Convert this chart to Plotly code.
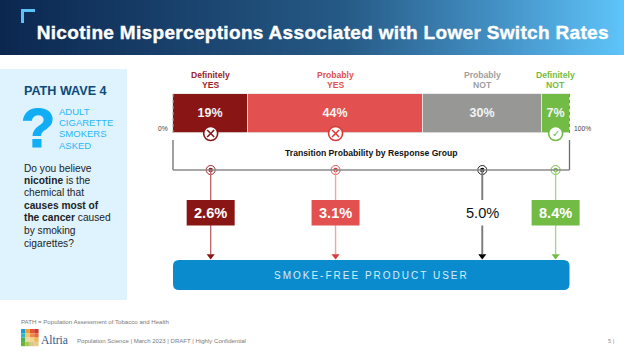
import plotly.graph_objects as go

W, H = 624, 351

categories = ["Definitely YES", "Probably YES", "Probably NOT", "Definitely NOT"]
shares = [19, 44, 30, 7]
share_labels = ["19%", "44%", "30%", "7%"]
rates = ["2.6%", "3.1%", "5.0%", "8.4%"]
head_lines = [("Definitely", "YES"), ("Probably", "YES"), ("Probably", "NOT"), ("Definitely", "NOT")]
fill_colors = ["#8A1515", "#E25050", "#979896", "#72BB44"]
head_colors = ["#9A2428", "#E25050", "#A0A09E", "#72BB44"]
stem_colors = ["#BC6A6A", "#F0A5A5", "#7A7A7A", "#A8D68C"]
tip_colors = ["#8A1515", "#D93A3A", "#000000", "#72BB44"]
icons = ["x", "x", None, "check"]
logo_rows = [
    ["#1E9AD6", "#F0A030", "#E8552F", "#D0392E"],
    ["#2FB5C8", "#F3C46A", "#EE8A4A", "#E36A3A"],
    ["#4CAF50", "#EBD9A8", "#F2D48A", "#EFB65A"],
    ["#6BB33A", "#A9C84F", "#D7C98C", "#E9C98A"],
]
panel_left = [
    ("Do you believe", 168),
    ("<b>nicotine</b> is the", 180),
    ("chemical that", 192.5),
    ("<b>causes most of</b>", 205),
    ("<b>the cancer</b> caused", 217.5),
    ("by smoking", 230),
    ("cigarettes?", 243),
]
asked = [("ADULT", 111), ("CIGARETTE", 122.5), ("SMOKERS", 133.5), ("ASKED", 145)]

mids = []
run = 0
for s in shares:
    mids.append(run + s / 2)
    run += s

FONT = "Liberation Sans"
BAR_L, BAR_R = 173, 569.5
unit = (BAR_R - BAR_L) / 100
fig = go.Figure()
shapes, notes = [], []


def px(x):
    return x / W


def py(y):
    return 1 - y / H


def rect(x0, y0, x1, y1, color):
    shapes.append(dict(type="rect", xref="paper", yref="paper", x0=px(x0), x1=px(x1), y0=py(y0), y1=py(y1),
                       fillcolor=color, line_width=0, layer="below"))


def note(text, x, y, size, color, xanchor="left", bold=False, xref="paper", family=FONT):
    notes.append(dict(text=f"<b>{text}</b>" if bold else text, x=px(x) if xref == "paper" else x, xref=xref,
                      y=y, yref="y", xanchor=xanchor, yanchor="middle", showarrow=False,
                      borderwidth=0, borderpad=0,
                      font=dict(family=family, size=size, color=color)))


def mix(a, b, t):
    return "#" + "".join(f"{round(a[i] + (b[i] - a[i]) * t):02x}" for i in range(3))


# header band
stops = [(0.0, (11, 39, 80)), (0.55, (38, 90, 134)), (0.8, (68, 146, 198)), (1.0, (95, 197, 250))]
for i in range(0, W, 3):
    t = i / W
    for (t0, c0), (t1, c1) in zip(stops, stops[1:]):
        if t0 <= t <= t1:
            rect(i, 0, i + 3.5, 55, mix(c0, c1, (t - t0) / (t1 - t0)))
            break
rect(21, 9, 35, 12, "#5BC3F5")
rect(21, 9, 24, 23, "#5BC3F5")
note("Nicotine Misperceptions Associated with Lower Switch Rates", 322.5, 32, 19, "#FFFFFF", "center", True)

# left panel
rect(0, 69, 127, 300, "#DFF3FF")
note("PATH WAVE 4", 24, 91, 12.6, "#0B4A7A", bold=True)
note("?", 37.5, 127, 56, "#12AEF5", xanchor="center", bold=True)
for line_text, y in asked:
    note(line_text, 59, y, 9.5, "#2BB6F6")
for line_text, y in panel_left:
    note(line_text, 24, y, 10.2, "#222222")

# stacked bar
for cat, val, lab, col in zip(categories, shares, share_labels, fill_colors):
    fig.add_trace(go.Bar(y=[113.5], width=[39], x=[val], name=cat, orientation="h", text=[f"<b>{lab}</b>"],
                         textposition="inside", insidetextanchor="middle", textangle=0,
                         marker=dict(color=col, line=dict(color="#E6E6E6", width=0.8)),
                         insidetextfont=dict(family=FONT, size=12.5, color="#F4F4F4"), hoverinfo="skip",
                         showlegend=False, cliponaxis=False))


# connector bracket, stems, value boxes
def line(x0, y0, x1, y1, color, width=1.2, dash="solid"):
    shapes.append(dict(type="line", xref="x", yref="y", x0=x0, x1=x1, y0=y0, y1=y1,
                       line=dict(color=color, width=width, dash=dash)))


line(0, 140, 0, 170, "#6E6E6E", 1.3)
line(0, 170, 100, 170, "#8A8A8A", 1.3)
line(100, 140, 100, 170, "#6E6E6E", 1.3)
line(0, 94, 0, 133, "#B0B0B0", 1, "dot")
line(100, 94, 100, 133, "#8A8A8A", 1, "dot")

for m, stem, col, rate in zip(mids, stem_colors, fill_colors, rates):
    white = rate != "5.0%"
    line(m, 170, m, 254, stem, 1.4 if white else 1.9)
    shapes.append(dict(type="rect", xref="x", yref="y", xsizemode="pixel", xanchor=m, x0=-24, x1=24,
                       y0=200, y1=225.5, fillcolor=col if white else "#FFFFFF", line_width=0))
    notes.append(dict(text=f"<b>{rate}</b>" if white else rate, x=m, xref="x", y=212.5, yref="y",
                      showarrow=False, borderwidth=0, borderpad=0,
                      font=dict(family=FONT, size=14.6, color="#FFFFFF" if white else "#111111")))

# arrowheads and junction markers
fig.add_trace(go.Scatter(x=mids, y=[256] * 4, mode="markers", hoverinfo="skip",
                         showlegend=False, cliponaxis=False,
                         marker=dict(symbol="triangle-down", size=7, color=tip_colors, line_width=0)))
fig.add_trace(go.Scatter(x=mids, y=[170] * 4, mode="markers", hoverinfo="skip",
                         showlegend=False, cliponaxis=False,
                         marker=dict(symbol="circle", size=9, color="#FFFFFF",
                                     line=dict(color=head_colors[:2] + ["#222222", "#72BB44"], width=1))))
fig.add_trace(go.Scatter(x=mids, y=[170] * 4, mode="markers", hoverinfo="skip",
                         showlegend=False, cliponaxis=False,
                         marker=dict(symbol="circle", size=4.5, color=tip_colors, line_width=0)))

# response icons on the bar
icon_x = [m for m, k in zip(mids, icons) if k]
icon_c = [c for c, k in zip(tip_colors, icons) if k]
fig.add_trace(go.Scatter(x=icon_x, y=[133.5] * 3, mode="markers", hoverinfo="skip",
                         showlegend=False, cliponaxis=False,
                         marker=dict(symbol="circle", size=14, color="#FFFFFF", line=dict(color=icon_c, width=1.6))))
fig.add_trace(go.Scatter(x=[m for m, k in zip(mids, icons) if k == "x"], y=[133.5] * 2, mode="markers",
                         hoverinfo="skip", showlegend=False, cliponaxis=False,
                         marker=dict(symbol="x-thin", size=7, line=dict(color=icon_c[:2], width=1.6))))
for m, k in zip(mids, icons):
    if k == "check":
        notes.append(dict(text="✓", x=m, xref="x", y=133.5, yref="y", showarrow=False,
                          borderwidth=0, borderpad=0,
                          font=dict(family="DejaVu Sans", size=10, color="#72BB44")))

# column heads
for m, (a, b), c in zip(mids, head_lines, head_colors):
    note(a, m, 74.5, 8.6, c, "center", True, "x")
    note(b, m, 85, 8.6, c, "center", True, "x")

note("0%", 168, 128.5, 6.7, "#444444", "right")
note("100%", 574, 128.5, 6.7, "#444444", "left")
note("Transition Probability by Response Group", 371, 153, 8.65, "#111111", "center", True)

# destination box
l, t, r, b, rad = BAR_L, 260, BAR_R, 290, 6
d = (f"M {px(l + rad)},{py(t)} L {px(r - rad)},{py(t)} Q {px(r)},{py(t)} {px(r)},{py(t + rad)} "
     f"L {px(r)},{py(b - rad)} Q {px(r)},{py(b)} {px(r - rad)},{py(b)} L {px(l + rad)},{py(b)} "
     f"Q {px(l)},{py(b)} {px(l)},{py(b - rad)} L {px(l)},{py(t + rad)} Q {px(l)},{py(t)} {px(l + rad)},{py(t)} Z")
shapes.append(dict(type="path", xref="paper", yref="paper", path=d, fillcolor="#0A8BCE", line_width=0))
note("SMOKE-FREE PRODUCT USER", 371, 275.5, 10, "#D6EEF9", "center")

# footer
note("PATH = Population Assessment of Tobacco and Health", 21, 321.5, 6.1, "#7A7A7A")
note("Population Science | March 2023 | DRAFT | Highly Confidential", 77, 341, 6.05, "#7A7A7A")
note("5 |", 608, 341, 5.6, "#8A8A8A")
note("Altria", 41, 339.5, 11.5, "#2A5A8E", family="Liberation Serif")
for row_i, row in enumerate(logo_rows):
    for col_i, col in enumerate(row):
        rect(21 + col_i * 4.4, 329 + row_i * 4.3, 21 + (col_i + 1) * 4.4, 329 + (row_i + 1) * 4.3, col)

fig.update_layout(
    width=W, height=H, margin=dict(l=0, r=0, t=0, b=0), autosize=False,
    paper_bgcolor="#FFFFFF", plot_bgcolor="rgba(0,0,0,0)", barmode="stack", bargap=0,
    showlegend=False, shapes=shapes, annotations=notes,
    xaxis=dict(domain=[0, 1], range=[-BAR_L / unit, (W - BAR_L) / unit], visible=False, fixedrange=True),
    yaxis=dict(domain=[0, 1], range=[H, 0], visible=False, fixedrange=True),
)

post = """
document.documentElement.style.overflow='hidden';
document.body.style.margin='0';
document.querySelectorAll('.annotation-text').forEach(function(n){
  if(n.textContent==='SMOKE-FREE PRODUCT USER'){n.style.letterSpacing='2px';}
  if(n.textContent==='?'){n.style.stroke='#12AEF5';n.style.strokeWidth='1.2px';}
  if(n.textContent.indexOf('Nicotine Misperceptions')===0){
    n.style.letterSpacing='0.32px';n.style.stroke='#FFFFFF';n.style.strokeWidth='0.4px';}
});
"""
fig.write_html("out.html", post_script=post, config=dict(displayModeBar=False))
